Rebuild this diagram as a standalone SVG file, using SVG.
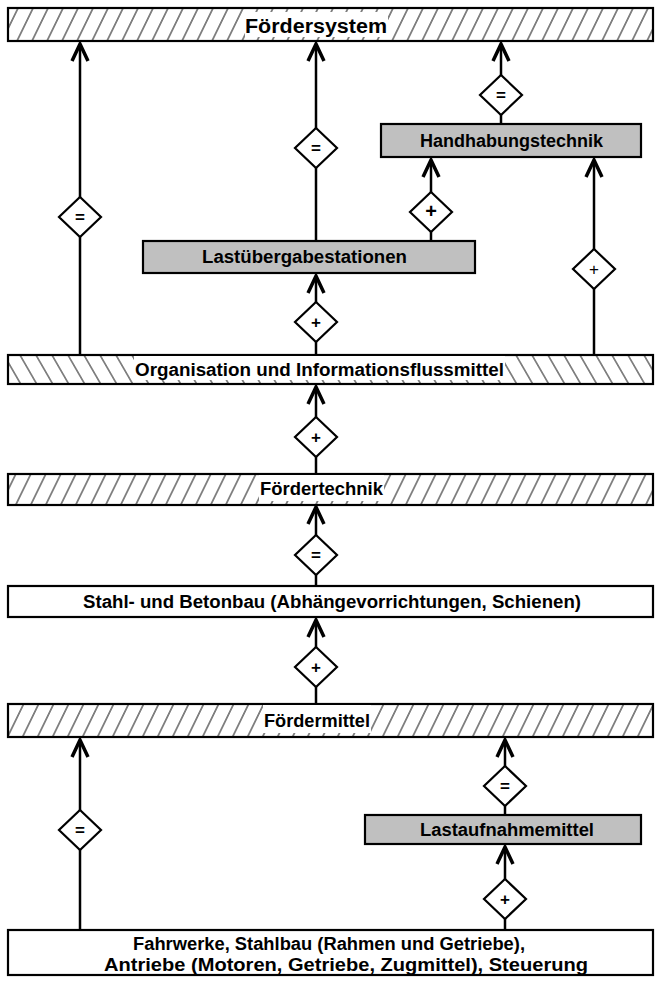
<svg xmlns="http://www.w3.org/2000/svg" width="659" height="981" viewBox="0 0 659 981">
<style>
.box{stroke:#000;stroke-width:2.2}
.white{fill:#fff}
.gray{fill:#c0c0c0}
.t{font-family:"Liberation Sans",Arial,sans-serif;font-weight:bold;font-size:18px;fill:#000}
.con{stroke:#000;stroke-width:2.5;fill:none}
.dia{fill:#fff;stroke:#000;stroke-width:2.2}
.sym{font-family:"Liberation Sans",Arial,sans-serif;font-weight:bold;font-size:17px;text-anchor:middle;fill:#000}
</style>
<defs>
<pattern id="fwd" patternUnits="userSpaceOnUse" width="15" height="60" patternTransform="skewX(-26)">
<rect width="15" height="60" fill="#fff"/>
<line x1="7" y1="0" x2="7" y2="60" stroke="#000" stroke-width="1"/>
</pattern>
<pattern id="back" patternUnits="userSpaceOnUse" width="16" height="60" patternTransform="skewX(30)">
<rect width="16" height="60" fill="#fff"/>
<line x1="7" y1="0" x2="7" y2="60" stroke="#000" stroke-width="1"/>
</pattern>
<marker id="arr" markerUnits="userSpaceOnUse" viewBox="-22 -12 26 24" refX="0" refY="0" markerWidth="26" markerHeight="24" orient="auto">
<path d="M-17,-8 L0,0 L-17,8" fill="none" stroke="#000" stroke-width="3.5" stroke-linejoin="miter"/>
</marker>
</defs>

<g id="connectors">
<line class="con" x1="80" y1="355" x2="80" y2="44" marker-end="url(#arr)"/>
<line class="con" x1="316" y1="241" x2="316" y2="44" marker-end="url(#arr)"/>
<line class="con" x1="501" y1="124" x2="501" y2="44" marker-end="url(#arr)"/>
<line class="con" x1="431" y1="241" x2="431" y2="160" marker-end="url(#arr)"/>
<line class="con" x1="594" y1="355" x2="594" y2="160" marker-end="url(#arr)"/>
<line class="con" x1="316" y1="355" x2="316" y2="276" marker-end="url(#arr)"/>
<line class="con" x1="316" y1="474" x2="316" y2="387" marker-end="url(#arr)"/>
<line class="con" x1="316" y1="586" x2="316" y2="507" marker-end="url(#arr)"/>
<line class="con" x1="316" y1="704" x2="316" y2="620" marker-end="url(#arr)"/>
<line class="con" x1="80" y1="930" x2="80" y2="740" marker-end="url(#arr)"/>
<line class="con" x1="505" y1="815" x2="505" y2="740" marker-end="url(#arr)"/>
<line class="con" x1="505" y1="930" x2="505" y2="847" marker-end="url(#arr)"/>

<g><polygon class="dia" points="80,197 101,217 80,237 59,217"/><text class="sym" x="80" y="223">=</text></g>
<g><polygon class="dia" points="316,128 337,148 316,168 295,148"/><text class="sym" x="316" y="154">=</text></g>
<g><polygon class="dia" points="501,75 522,95 501,115 480,95"/><text class="sym" x="501" y="101">=</text></g>
<g><polygon class="dia" points="431,192 452,212 431,232 410,212"/><text class="sym" x="431" y="218" style="font-size:20px">+</text></g>
<g><polygon class="dia" points="594,249 615,269 594,289 573,269"/><text class="sym" x="594" y="275" style="font-weight:normal">+</text></g>
<g><polygon class="dia" points="316,302 337,322 316,342 295,322"/><text class="sym" x="316" y="328">+</text></g>
<g><polygon class="dia" points="316,417 337,437 316,457 295,437"/><text class="sym" x="316" y="443">+</text></g>
<g><polygon class="dia" points="316,535 337,555 316,575 295,555"/><text class="sym" x="316" y="561">=</text></g>
<g><polygon class="dia" points="316,647 337,667 316,687 295,667"/><text class="sym" x="316" y="673">+</text></g>
<g><polygon class="dia" points="80,810 101,830 80,850 59,830"/><text class="sym" x="80" y="836">=</text></g>
<g><polygon class="dia" points="505,766 526,786 505,806 484,786"/><text class="sym" x="505" y="792">=</text></g>
<g><polygon class="dia" points="505,879 526,899 505,919 484,899"/><text class="sym" x="505" y="905">+</text></g>
</g>

<g id="foerdersystem">
<rect class="box" x="8" y="8" width="645" height="33" fill="url(#fwd)"/>
<rect x="245" y="12" width="143" height="25" fill="#fff"/>
<text class="t" x="245" y="33" style="font-size:20px" textLength="142" lengthAdjust="spacingAndGlyphs">Fördersystem</text>
</g>

<g id="handhabungstechnik">
<rect class="box gray" x="381" y="124" width="260" height="33"/>
<text class="t" x="420" y="147" textLength="183" lengthAdjust="spacingAndGlyphs">Handhabungstechnik</text>
</g>

<g id="lastuebergabestationen">
<rect class="box gray" x="143" y="241" width="332" height="32"/>
<text class="t" x="202" y="263" textLength="205" lengthAdjust="spacingAndGlyphs">Lastübergabestationen</text>
</g>

<g id="organisation">
<rect class="box" x="8" y="355" width="645" height="29" fill="url(#back)"/>
<rect x="134" y="356" width="371" height="24" fill="#fff"/>
<text class="t" x="135" y="376" textLength="369" lengthAdjust="spacingAndGlyphs">Organisation und Informationsflussmittel</text>
</g>

<g id="foerdertechnik">
<rect class="box" x="8" y="474" width="645" height="31" fill="url(#fwd)"/>
<rect x="259" y="475" width="125" height="26" fill="#fff"/>
<text class="t" x="260" y="495" textLength="123" lengthAdjust="spacingAndGlyphs">Fördertechnik</text>
</g>

<g id="stahlbau">
<rect class="box white" x="8" y="586" width="645" height="31"/>
<text class="t" x="83" y="608" textLength="498" lengthAdjust="spacingAndGlyphs">Stahl- und Betonbau (Abhängevorrichtungen, Schienen)</text>
</g>

<g id="foerdermittel">
<rect class="box" x="8" y="704" width="645" height="33" fill="url(#fwd)"/>
<rect x="263" y="705" width="108" height="28" fill="#fff"/>
<text class="t" x="264" y="727" textLength="106" lengthAdjust="spacingAndGlyphs">Fördermittel</text>
</g>

<g id="lastaufnahmemittel">
<rect class="box gray" x="365" y="815" width="276" height="29"/>
<text class="t" x="420" y="836" textLength="174" lengthAdjust="spacingAndGlyphs">Lastaufnahmemittel</text>
</g>

<g id="fahrwerke">
<rect class="box white" x="8" y="930" width="645" height="45"/>
<text class="t" x="133" y="950" textLength="392" lengthAdjust="spacingAndGlyphs">Fahrwerke, Stahlbau (Rahmen und Getriebe),</text>
<text class="t" x="104" y="971" textLength="484" lengthAdjust="spacingAndGlyphs">Antriebe (Motoren, Getriebe, Zugmittel), Steuerung</text>
</g>
</svg>
